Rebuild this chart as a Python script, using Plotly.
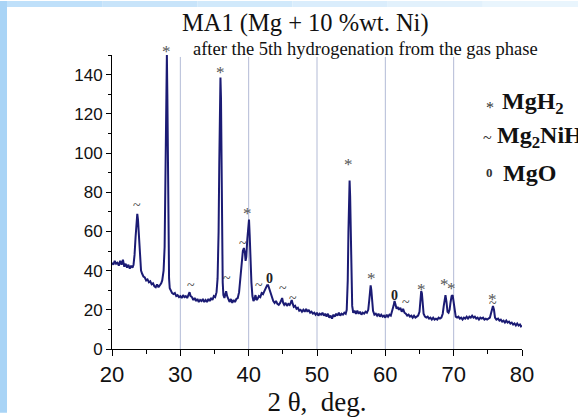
import plotly.graph_objects as go

# ---------------- data ----------------
two_theta = [
    20.0, 20.2, 20.4, 20.6, 20.8, 21.0, 21.2, 21.4, 21.6, 21.8, 22.0, 22.2, 22.4, 22.6, 22.8, 23.0, 23.15,
    23.3, 23.45, 23.6, 23.7, 23.8, 23.95, 24.1, 24.25, 24.4,
    24.6, 24.8, 25.0, 25.2, 25.4, 25.6, 25.8, 26.0, 26.2, 26.4, 26.6, 26.8, 27.0, 27.2, 27.35,
    27.55, 27.7, 27.8, 27.9, 27.98, 28.03, 28.1, 28.18, 28.26, 28.35, 28.45,
    28.6, 28.8, 29.0, 29.2, 29.4, 29.6, 29.8, 30.0, 30.2, 30.4, 30.6, 30.8, 31.0, 31.2, 31.35, 31.5, 31.7,
    31.9, 32.1, 32.3, 32.5, 32.7, 32.9, 33.1, 33.3, 33.5, 33.7, 33.9, 34.1, 34.3, 34.5, 34.7, 34.9, 35.1, 35.3,
    35.45, 35.6, 35.7, 35.8, 35.87, 35.95, 36.02, 36.1, 36.2, 36.3, 36.45, 36.6, 36.7, 36.85, 37.0, 37.2,
    37.4, 37.6, 37.8, 38.0, 38.2, 38.4, 38.6,
    38.8, 39.0, 39.15, 39.3, 39.45, 39.55, 39.65, 39.8, 39.95, 40.05, 40.15, 40.25, 40.4, 40.55, 40.7,
    40.85, 41.0, 41.15, 41.3, 41.5, 41.7, 41.9, 42.1, 42.3, 42.5, 42.7, 42.85,
    43.0, 43.2, 43.4, 43.6, 43.8, 44.0, 44.2, 44.4, 44.6, 44.75, 44.9, 45.05, 45.2, 45.4, 45.6, 45.8,
    46.0, 46.15, 46.3, 46.45, 46.6, 46.8, 47.0, 47.2, 47.4,
    47.6, 47.8, 48.0, 48.2, 48.4, 48.6, 48.8, 49.0, 49.2, 49.4, 49.6, 49.8, 50.0, 50.2, 50.4, 50.6, 50.8,
    51.0, 51.2, 51.4, 51.6, 51.8, 52.0, 52.2, 52.4, 52.6, 52.8, 53.0, 53.2, 53.4, 53.6, 53.8, 54.0, 54.2,
    54.35, 54.5, 54.6, 54.7, 54.77, 54.85, 54.95, 55.05, 55.15, 55.3, 55.5, 55.7, 55.9, 56.1, 56.3, 56.5,
    56.7, 56.9, 57.1, 57.3, 57.5,
    57.65, 57.75, 57.85, 57.95, 58.05, 58.2, 58.4, 58.6, 58.8, 59.0, 59.2, 59.4, 59.6, 59.8, 60.0, 60.2,
    60.4, 60.6, 60.8, 61.0, 61.2, 61.35, 61.5, 61.65, 61.8, 62.0, 62.2, 62.4, 62.6, 62.8, 63.0, 63.2, 63.4,
    63.6, 63.8, 64.0, 64.2, 64.4, 64.6, 64.8, 65.0,
    65.15, 65.25, 65.35, 65.45, 65.6, 65.8, 66.0, 66.2, 66.4, 66.6, 66.8, 67.0, 67.2, 67.4, 67.6, 67.8,
    68.0, 68.2, 68.4,
    68.55, 68.7, 68.8, 68.95, 69.1, 69.25, 69.4, 69.55, 69.7, 69.85, 69.95, 70.1, 70.3, 70.5, 70.7, 70.9,
    71.1, 71.3, 71.5, 71.7, 71.9, 72.1, 72.3, 72.5, 72.7, 72.9, 73.1, 73.3, 73.5, 73.7, 73.9, 74.1, 74.3,
    74.5, 74.7, 74.9, 75.1, 75.3, 75.45,
    75.6, 75.75, 75.9, 76.05, 76.25, 76.5, 76.7, 76.9, 77.1, 77.3, 77.5, 77.7, 77.9, 78.1, 78.3, 78.5,
    78.7, 78.9, 79.1, 79.3, 79.5, 79.7, 79.85, 80.0,
]
intensity = [
    44, 43, 45, 43.5, 44, 42.5, 45, 43, 45.5, 42, 43.5, 41.5, 43, 41, 42.5, 41.5, 43,
    48, 57, 66, 69, 66, 56, 46, 40, 38.5,
    37, 36.5, 35, 35.5, 34, 34.5, 33, 33.5, 32, 31.5, 33, 31.5, 32.5, 33.5, 35,
    40, 52, 80, 120, 148, 150, 130, 90, 55, 36, 31,
    29.5, 28.5, 28, 28.5, 27, 27.5, 26.5, 27, 26, 27.5, 26.5, 27, 26, 28, 29, 27, 26.5,
    25, 26, 24.5, 25.5, 24, 25, 24.5, 25.5, 24, 25, 24, 25.5, 24.5, 26, 25, 27, 26.5, 29,
    36, 60, 95, 125, 138.5, 128, 95, 55, 34, 27.5, 26, 28, 29.5, 27, 26, 24,
    25.5, 23.5, 25, 24, 25.5, 26, 29,
    36, 45, 50, 51.5, 49, 45, 47, 56, 64, 66, 58, 46, 34, 27, 24.5,
    25.5, 27.5, 25, 25.5, 27, 26.5, 28.5, 28, 29.5, 31.5, 32.5, 32.5,
    31, 28.5, 26, 24.5, 23.5, 24.5, 23, 22.5, 23.5, 25, 26, 23.5, 22.5, 23.5, 22, 23,
    22.5, 23.5, 25, 23, 21.5, 22, 20.5, 21, 19.5,
    20, 19, 20, 19, 20.5, 19, 20, 18.5, 19, 18, 18.5, 17.5, 18.5, 17, 18, 17.5, 18.5,
    17, 18, 16.5, 18, 16, 17, 15.5, 17.5, 16.5, 18, 17, 18.5, 17, 18, 17.5, 18.5, 18,
    20, 35, 60, 80, 86, 78, 55, 33, 22, 18.5, 19.5, 18, 19.5, 18, 19, 17.5,
    18.5, 18, 19, 18.5, 20,
    25, 31, 32.5, 30, 24, 19.5, 17.5, 18, 17, 18, 16.5, 17.5, 16.5, 17, 16, 17.5,
    16.5, 17.5, 17, 19, 22, 24.5, 23, 20.5, 21.5, 20, 21, 19, 20.5, 18.5, 18, 17, 17.5,
    16.5, 17, 16, 17, 16, 16.5, 17, 19,
    25, 29.5, 28.5, 23, 18, 16.5, 16, 16.5, 15.5, 16, 15, 16, 15, 15.5, 15, 16,
    15.5, 16, 18,
    22, 27, 27.5, 24, 19, 18.5, 20, 24, 27, 27.5, 25, 20, 16.5, 16, 16.5, 15.5,
    16, 15, 16, 15.5, 16.5, 15.5, 16.5, 16, 17, 16, 16.5, 15.5, 16, 15, 16, 15.5, 16,
    15, 15.5, 15, 15.5, 16, 18,
    21, 22, 20, 16, 15, 15.5, 14.5, 15, 14, 14.5, 13.5, 14.5, 13.5, 14, 13, 13.5,
    12.5, 13, 12, 13, 12, 12.5, 11.5, 12,
]

# phase marks placed over the peaks
mark_x = [23.7, 28.0, 31.6, 35.9, 36.9, 39.1, 39.9, 41.5, 43.0, 45.0, 46.5,
          54.6, 57.95, 61.4, 63.0, 65.3, 68.7, 69.7, 75.75, 75.75]
mark_y = [73, 154, 32.5, 143, 36, 54, 71, 32.5, 36, 31, 26,
          96, 38, 27.5, 23.5, 32.5, 35, 33, 27.5, 23]
mark_sym = ["~", "*", "~", "*", "~", "~", "*", "~", "0", "~", "~",
            "*", "*", "0", "~", "*", "*", "*", "*", "~"]

legend_symbols = ["*", "~", "0"]
legend_labels = ["MgH<sub>2</sub>", "Mg<sub>2</sub>NiH<sub>4</sub>", "MgO"]

x_ticks = [20, 30, 40, 50, 60, 70, 80]
y_ticks = [0, 20, 40, 60, 80, 100, 120, 140]
grid_x = [30, 40, 50, 60, 70]
x_range = [20, 80]
y_range = [0, 150]

title_text = "MA1 (Mg + 10 %wt. Ni)"
subtitle_text = "after the 5th hydrogenation from the gas phase"
x_title = "2 θ,  deg."

# ---------------- layout geometry ----------------
W, H = 578, 420
ML, MR, MT, MB = 112, 56, 55, 65
PW, PH = W - ML - MR, H - MT - MB


def px(xp):
    return (xp - ML) / PW


def py(yp):
    return (H - MB - yp) / PH


SERIF = "Liberation Serif, Times New Roman, serif"
SANS = "Liberation Sans, Arial, sans-serif"
NAVY = "#1b1b74"

fig = go.Figure()
fig.add_trace(go.Scatter(
    x=two_theta, y=intensity, mode="lines",
    line=dict(color=NAVY, width=2), hoverinfo="skip", showlegend=False,
))

shapes = []
# light blue frame strips (left and top) of the slide background
shapes.append(dict(type="rect", xref="paper", yref="paper", layer="below",
                   x0=px(0), x1=px(7), y0=py(H), y1=py(0),
                   fillcolor="#a9d4f6", line=dict(width=0)))
top_cols = ["#bfe0fa", "#c8e4fa", "#d1e9fb", "#daedfc", "#e2f1fc", "#e9f5fd"]
n = len(top_cols)
for i, c in enumerate(top_cols):
    shapes.append(dict(type="rect", xref="paper", yref="paper", layer="below",
                       x0=px(7 + i * (W - 7) / n), x1=px(7 + (i + 1) * (W - 7) / n),
                       y0=py(6), y1=py(0), fillcolor=c, line=dict(width=0)))
# vertical grid lines
for gx in grid_x:
    shapes.append(dict(type="line", xref="x", yref="y", layer="below",
                       x0=gx, x1=gx, y0=0, y1=149,
                       line=dict(color="#b3bbd6", width=1)))

annotations = []
for mx, my, ms in zip(mark_x, mark_y, mark_sym):
    # y given in paper units so that marks above the axis top stay visible
    base = dict(x=mx, y=(my - y_range[0]) / (y_range[1] - y_range[0]), xref="x", yref="paper",
                showarrow=False, xanchor="center", yanchor="middle")
    if ms == "*":
        base.update(text="*", font=dict(family=SERIF, size=17, color="#555555"), yshift=-4)
    elif ms == "~":
        base.update(text="~", font=dict(family=SERIF, size=14, color="#333333"))
    else:
        base.update(text="<b>0</b>", font=dict(family=SERIF, size=14, color="#222222"))
    annotations.append(base)

# titles
annotations.append(dict(x=px(305), y=py(22), xref="paper", yref="paper", text=title_text,
                        showarrow=False, font=dict(family=SERIF, size=24.5, color="#111111"),
                        xanchor="center", yanchor="middle"))
annotations.append(dict(x=px(191), y=py(49), xref="paper", yref="paper", text=subtitle_text,
                        showarrow=False, font=dict(family=SERIF, size=18.5, color="#111111"),
                        xanchor="left", yanchor="middle"))

# phase legend
leg_y = [104, 139, 175]
leg_sym_x = [490, 487, 489]
leg_txt_x = [500, 495, 501]
for s, lab, yy, sx, tx in zip(legend_symbols, legend_labels, leg_y, leg_sym_x, leg_txt_x):
    sym_txt = "<b>0</b>" if s == "0" else s
    annotations.append(dict(x=px(sx), y=py(yy), xref="paper", yref="paper", text=sym_txt,
                            showarrow=False, xanchor="center", yanchor="middle",
                            yshift=-4 if s == "*" else 0,
                            font=dict(family=SERIF, size=16 if s != "0" else 13, color="#333333")))
    annotations.append(dict(x=px(tx), y=py(yy), xref="paper", yref="paper", text="<b>" + lab + "</b>",
                            showarrow=False, xanchor="left", yanchor="middle",
                            font=dict(family=SERIF, size=24, color="#111111")))

fig.update_layout(
    width=W, height=H,
    margin=dict(l=ML, r=MR, t=MT, b=MB, pad=0),
    paper_bgcolor="white", plot_bgcolor="white",
    shapes=shapes, annotations=annotations,
    xaxis=dict(
        range=x_range, tickvals=x_ticks, ticktext=[str(v) for v in x_ticks],
        showgrid=False, zeroline=False, showline=True, linecolor="black", linewidth=1,
        ticks="outside", ticklen=6, tickcolor="black", tickwidth=1,
        tickfont=dict(family=SANS, size=22, color="#111111"),
        minor=dict(dtick=5, tick0=20, ticks="outside", ticklen=4, tickcolor="black", showgrid=False),
        title=dict(text=x_title, font=dict(family=SERIF, size=27, color="#111111"), standoff=2),
        fixedrange=True,
    ),
    yaxis=dict(
        range=y_range, tickvals=y_ticks, ticktext=[str(v) for v in y_ticks],
        showgrid=False, zeroline=False, showline=True, linecolor="black", linewidth=1,
        ticks="outside", ticklen=5, tickcolor="black", tickwidth=1,
        tickfont=dict(family=SANS, size=17, color="#111111"),
        minor=dict(dtick=10, tick0=0, ticks="outside", ticklen=3, tickcolor="black", showgrid=False),
        fixedrange=True,
    ),
)

fig.write_html("out.html", config={"displayModeBar": False},
               post_script="document.body.style.margin='0';")
